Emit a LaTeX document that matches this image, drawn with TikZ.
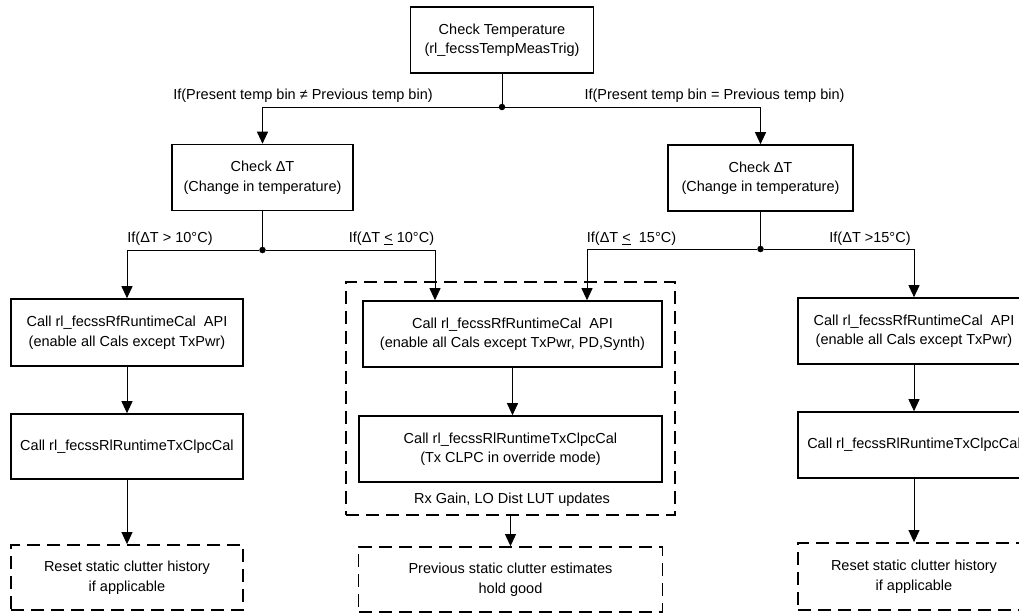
\documentclass[tikz,border=0pt]{standalone}
\usepackage{fontspec}
\setmainfont{Liberation Sans}
\usetikzlibrary{arrows.meta}
\begin{document}
\begin{tikzpicture}[x=1pt,y=-1pt,
  font=\fontsize{14.5}{19.5}\selectfont,
  box/.style={draw, line width=1.6pt, align=center, inner sep=0pt},
  dbox/.style={draw, line width=1.8pt, dash pattern=on 13pt off 7pt, align=center, inner sep=0pt},
  conn/.style={line width=0.9pt},
  arr/.style={conn, -{Triangle[length=12pt,width=11pt]}},
  dot/.style={circle, fill, inner sep=0pt, minimum size=6.5pt},
  lbl/.style={inner sep=0pt}]
\useasboundingbox (0,0) rectangle (1019,613);
\fill[white] (0,0) rectangle (1019,613);
\clip (0,0) rectangle (1019,613);

% level 0
\node[box, minimum width=183pt, minimum height=66pt] (top) at (502,40)
  {Check Temperature\\(rl\_fecssTempMeasTrig)};
\node[dot] (d0) at (502,107) {};
\node[lbl] (t1) at (303,96) {If(Present temp bin ≠ Previous temp bin)};
\node[lbl] (t2) at (714.5,96) {If(Present temp bin = Previous temp bin)};

% level 1
\node[box, minimum width=181pt, minimum height=66pt] (L) at (262.5,177.5)
  {Check ΔT\\(Change in temperature)};
\node[box, minimum width=185pt, minimum height=66pt] (R) at (760.5,178)
  {Check ΔT\\(Change in temperature)};
\node[dot] (dL) at (262.5,250) {};
\node[dot] (dR) at (760.5,249) {};
\node[lbl] (l1) at (170,239) {If(ΔT > 10°C)};
\node[lbl] (l2) at (391.5,239) {If(ΔT \underline{<} 10°C)};
\node[lbl] (l3) at (631.5,239) {If(ΔT \underline{<}\ \ 15°C)};
\node[lbl] (l4) at (870,239) {If(ΔT >15°C)};

% left column
\node[box, minimum width=232pt, minimum height=67pt] (A1) at (127,332.5)
  {Call rl\_fecssRfRuntimeCal\ \ API\\(enable all Cals except TxPwr)};
\node[box, minimum width=232pt, minimum height=65pt] (A2) at (127,446.5)
  {Call rl\_fecssRlRuntimeTxClpcCal};
\node[dbox, minimum width=232pt, minimum height=65pt] (A3) at (127,577.5)
  {Reset static clutter history\\if applicable};

% middle column
\node[dbox, minimum width=329pt, minimum height=233pt] (grp) at (510.5,398.5) {};
\node[box, minimum width=299pt, minimum height=66pt] (B1) at (512.5,334)
  {Call rl\_fecssRfRuntimeCal\ \ API\\(enable all Cals except TxPwr, PD,Synth)};
\node[box, minimum width=303pt, minimum height=66pt] (B2) at (510.5,449)
  {Call rl\_fecssRlRuntimeTxClpcCal\\(Tx CLPC in override mode)};
\node[lbl] (rx) at (512,500) {Rx Gain, LO Dist LUT updates};
\node[dbox, minimum width=304pt, minimum height=65pt] (B3) at (510.5,579.5)
  {Previous static clutter estimates\\hold good};

% right column
\node[box, minimum width=232pt, minimum height=66pt] (C1) at (914,331)
  {Call rl\_fecssRfRuntimeCal\ \ API\\(enable all Cals except TxPwr)};
\node[box, minimum width=232pt, minimum height=66pt] (C2) at (914,445)
  {Call rl\_fecssRlRuntimeTxClpcCal};
\node[dbox, minimum width=232pt, minimum height=67pt] (C3) at (914,576.5)
  {Reset static clutter history\\if applicable};

\coordinate (xl) at (435,0);
\coordinate (xr) at (587,0);

% connectors
\draw[conn] (top) -- (d0);
\draw[arr] (d0) -| (L.north);
\draw[arr] (d0) -| (R.north);
\draw[conn] (L) -- (dL);
\draw[conn] (R) -- (dR);
\draw[arr] (dL) -| (A1.north);
\draw[arr] (dL) -| (B1.north -| xl);
\draw[arr] (dR) -| (B1.north -| xr);
\draw[arr] (dR) -| (C1.north);
\draw[arr] (A1) -- (A2);
\draw[arr] (A2.south) -- (A3.north);
\draw[arr] (B1.south) -- (B1.south |- B2.north);
\draw[arr] (grp.south) -- (B3.north);
\draw[arr] (C1) -- (C2);
\draw[arr] (C2.south) -- (C3.north);
\end{tikzpicture}
\end{document}
